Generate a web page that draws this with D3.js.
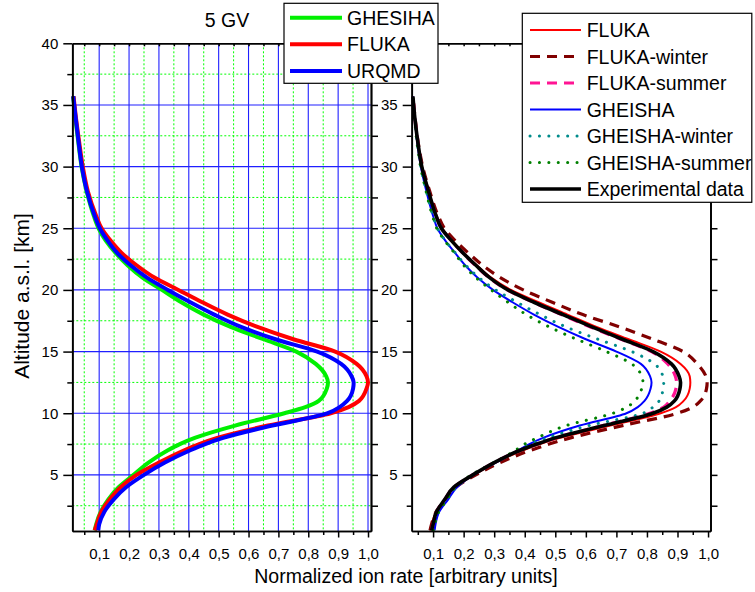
<!DOCTYPE html>
<html><head><meta charset="utf-8">
<script src="https://cdn.jsdelivr.net/npm/d3@7"></script>
<style>
html,body{margin:0;padding:0;background:#fff;}
svg{display:block;}
text{font-family:"Liberation Sans",Arial,Helvetica,sans-serif;}
</style>
</head><body>
<svg id="chart" width="755" height="592"></svg>
<script>
// ---------- data ----------
const altitudes = [0.5, 1, 2, 3, 4, 5, 6, 7, 7.5, 8, 9, 10, 10.5, 11, 12, 12.5, 13, 14, 15, 16, 17, 18, 19, 20, 21, 22, 23, 24, 25, 26, 28, 30, 32, 34, 35.7];

// left panel (5 GV)
const ghesihaLeft = [0.085,0.09,0.105,0.13,0.165,0.215,0.265,0.33,0.37,0.42,0.555,0.72,0.79,0.835,0.862,0.866,0.86,0.825,0.76,0.65,0.54,0.45,0.375,0.31,0.245,0.195,0.155,0.122,0.098,0.082,0.058,0.041,0.03,0.02,0.013];
const flukaLeft    = [0.085,0.092,0.107,0.135,0.172,0.225,0.30,0.385,0.435,0.495,0.665,0.875,0.935,0.97,0.995,1.0,0.995,0.962,0.89,0.75,0.63,0.53,0.445,0.365,0.285,0.225,0.175,0.138,0.108,0.09,0.062,0.045,0.033,0.022,0.014];
const urqmdLeft    = [0.097,0.1,0.117,0.148,0.19,0.25,0.32,0.405,0.455,0.515,0.68,0.865,0.905,0.93,0.95,0.952,0.945,0.91,0.83,0.69,0.575,0.485,0.405,0.33,0.26,0.205,0.16,0.128,0.102,0.085,0.059,0.042,0.031,0.021,0.013];

// right panel
const flukaRight    = [0.09,0.095,0.11,0.138,0.17,0.235,0.305,0.395,0.45,0.515,0.68,0.845,0.895,0.92,0.94,0.942,0.94,0.91,0.845,0.74,0.635,0.54,0.445,0.355,0.29,0.243,0.2,0.162,0.13,0.112,0.086,0.064,0.05,0.04,0.034];
const flukaWinter   = [0.09,0.095,0.11,0.14,0.175,0.24,0.32,0.42,0.48,0.55,0.72,0.90,0.95,0.975,0.995,0.997,0.993,0.965,0.918,0.82,0.71,0.59,0.49,0.395,0.32,0.262,0.215,0.172,0.137,0.117,0.089,0.066,0.051,0.041,0.034];
const flukaSummer   = [0.095,0.1,0.111,0.138,0.168,0.23,0.30,0.385,0.44,0.50,0.655,0.81,0.855,0.875,0.895,0.897,0.893,0.868,0.815,0.715,0.615,0.52,0.428,0.343,0.283,0.238,0.197,0.16,0.127,0.11,0.085,0.063,0.05,0.04,0.034];
const gheishaRight  = [0.105,0.108,0.12,0.149,0.178,0.232,0.305,0.38,0.415,0.46,0.58,0.733,0.77,0.792,0.812,0.815,0.81,0.78,0.70,0.60,0.51,0.43,0.36,0.296,0.245,0.205,0.172,0.14,0.114,0.1,0.078,0.06,0.048,0.04,0.034];
const gheishaWinter = [0.1,0.105,0.118,0.145,0.175,0.23,0.30,0.385,0.42,0.475,0.61,0.787,0.82,0.84,0.853,0.855,0.852,0.825,0.75,0.64,0.535,0.45,0.375,0.305,0.25,0.207,0.173,0.14,0.114,0.1,0.078,0.06,0.048,0.04,0.034];
const gheishaSummer = [0.1,0.105,0.118,0.145,0.172,0.225,0.30,0.37,0.40,0.44,0.536,0.689,0.735,0.76,0.783,0.787,0.783,0.75,0.667,0.57,0.48,0.405,0.345,0.29,0.24,0.2,0.17,0.138,0.112,0.098,0.077,0.059,0.047,0.039,0.034];
const experimental  = [0.095,0.1,0.111,0.138,0.168,0.23,0.30,0.385,0.44,0.50,0.66,0.82,0.865,0.89,0.908,0.91,0.905,0.88,0.82,0.72,0.62,0.525,0.43,0.345,0.285,0.24,0.198,0.16,0.127,0.11,0.085,0.063,0.05,0.04,0.034];

const xMajorTicks = [0.1,0.2,0.3,0.4,0.5,0.6,0.7,0.8,0.9,1.0];
const xMinorTicks = [0.05,0.15,0.25,0.35,0.45,0.55,0.65,0.75,0.85,0.95];
const yMajorTicks = [5,10,15,20,25,30,35,40];
const yMinorTicks = [2.5,7.5,12.5,17.5,22.5,27.5,32.5,37.5];

const leftSeries = [
  {name:"GHESIHA", values:ghesihaLeft, color:"#00f000"},
  {name:"FLUKA",   values:flukaLeft,   color:"#ff0000"},
  {name:"URQMD",   values:urqmdLeft,   color:"#0000ff"}
];
const rightSeries = [
  {name:"FLUKA",          values:flukaRight,    color:"#ff0000", width:2,   dash:null},
  {name:"FLUKA-winter",   values:flukaWinter,   color:"#800000", width:3.2, dash:"10,7"},
  {name:"FLUKA-summer",   values:flukaSummer,   color:"#ff1493", width:3.2, dash:"10,7"},
  {name:"GHEISHA",        values:gheishaRight,  color:"#0000ff", width:2,   dash:null},
  {name:"GHEISHA-winter", values:gheishaWinter, color:"#008b8b", width:3,   dash:"0.1,9.3", cap:"round"},
  {name:"GHEISHA-summer", values:gheishaSummer, color:"#008000", width:3,   dash:"0.1,9.3", cap:"round"},
  {name:"Experimental data", values:experimental, color:"#000000", width:3.6, dash:null}
];

// ---------- layout ----------
const svg = d3.select("#chart");
const FONT = '"Liberation Sans",Arial,Helvetica,sans-serif';
const yTop = 43.3, yBot = 531;
const y = d3.scaleLinear().domain([0.45, 40]).range([yBot, yTop]);
const xL = d3.scaleLinear().domain([0.01, 1.01]).range([72.3, 371]);
const xR = d3.scaleLinear().domain([0.03, 1.008]).range([411.7, 710.5]);
const fmtX = d => d3.format(".1f")(d).replace(".", ",");

// ---------- left grid ----------
const grid = svg.append("g");
grid.selectAll("line.gvm").data(xMinorTicks).join("line")
  .attr("x1", d => xL(d)).attr("x2", d => xL(d)).attr("y1", yTop).attr("y2", yBot)
  .attr("stroke", "#00ff00").attr("stroke-width", 1).attr("stroke-dasharray", "2,2");
grid.selectAll("line.ghm").data(yMinorTicks).join("line")
  .attr("x1", xL.range()[0]).attr("x2", xL.range()[1]).attr("y1", d => y(d)).attr("y2", d => y(d))
  .attr("stroke", "#00ff00").attr("stroke-width", 1).attr("stroke-dasharray", "2,2");
grid.selectAll("line.gvM").data(xMajorTicks).join("line")
  .attr("x1", d => xL(d)).attr("x2", d => xL(d)).attr("y1", yTop).attr("y2", yBot)
  .attr("stroke", "#2020ff").attr("stroke-width", 1.1);
grid.selectAll("line.ghM").data(yMajorTicks.filter(d => d < 40)).join("line")
  .attr("x1", xL.range()[0]).attr("x2", xL.range()[1]).attr("y1", d => y(d)).attr("y2", d => y(d))
  .attr("stroke", "#2020ff").attr("stroke-width", 1.1);

// ---------- curves ----------
function lineFor(xs) {
  return d3.line().x(d => xs(d.v)).y(d => y(d.h)).curve(d3.curveMonotoneY);
}
const toPts = vals => altitudes.map((h, i) => ({h, v: vals[i]}));

svg.append("g").selectAll("path").data(leftSeries).join("path")
  .attr("d", s => lineFor(xL)(toPts(s.values)))
  .attr("fill", "none").attr("stroke", s => s.color).attr("stroke-width", 4)
  .attr("stroke-linejoin", "round");

svg.append("g").selectAll("path").data(rightSeries).join("path")
  .attr("d", s => lineFor(xR)(toPts(s.values)))
  .attr("fill", "none").attr("stroke", s => s.color).attr("stroke-width", s => s.width)
  .attr("stroke-dasharray", s => s.dash).attr("stroke-linecap", s => s.cap || "butt")
  .attr("stroke-linejoin", "round");

// ---------- axes ----------
function styleAxis(g, showLabels) {
  g.selectAll("path.domain").attr("stroke", "#000").attr("stroke-width", 1.7);
  g.selectAll(".tick line").attr("stroke", "#000").attr("stroke-width", 1.5);
  g.selectAll(".tick text").attr("font-size", 15).attr("font-family", FONT).attr("fill", "#000");
  if (!showLabels) g.selectAll(".tick text").remove();
}
function panelAxes(xs, yLabelTicks) {
  const [x0, x1] = xs.range();
  // bottom
  svg.append("g").attr("transform", `translate(0,${yBot})`)
    .call(d3.axisBottom(xs).tickValues(xMinorTicks).tickSize(4).tickSizeOuter(0).tickFormat(""))
    .call(g => styleAxis(g, false));
  svg.append("g").attr("transform", `translate(0,${yBot})`)
    .call(d3.axisBottom(xs).tickValues(xMajorTicks).tickSize(6.5).tickPadding(11).tickSizeOuter(0).tickFormat(fmtX))
    .call(g => styleAxis(g, true));
  // top (inward ticks)
  svg.append("g").attr("transform", `translate(0,${yTop})`)
    .call(d3.axisTop(xs).tickValues(xMajorTicks.concat(xMinorTicks)).tickSize(-3).tickSizeOuter(0).tickFormat(""))
    .call(g => styleAxis(g, false));
  // left
  svg.append("g").attr("transform", `translate(${x0},0)`)
    .call(d3.axisLeft(y).tickValues(yMinorTicks).tickSize(5).tickSizeOuter(0).tickFormat(""))
    .call(g => styleAxis(g, false));
  svg.append("g").attr("transform", `translate(${x0},0)`)
    .call(d3.axisLeft(y).tickValues(yMajorTicks).tickSize(9).tickPadding(5).tickSizeOuter(0)
      .tickFormat(d => yLabelTicks.includes(d) ? d3.format("d")(d) : ""))
    .call(g => styleAxis(g, true));
  // right (outward ticks)
  svg.append("g").attr("transform", `translate(${x1},0)`)
    .call(d3.axisRight(y).tickValues(yMinorTicks).tickSize(7).tickSizeOuter(0).tickFormat(""))
    .call(g => styleAxis(g, false));
  svg.append("g").attr("transform", `translate(${x1},0)`)
    .call(d3.axisRight(y).tickValues(yMajorTicks).tickSize(7).tickSizeOuter(0).tickFormat(""))
    .call(g => styleAxis(g, false));
}
panelAxes(xL, yMajorTicks);
panelAxes(xR, yMajorTicks.filter(d => d < 40)); // the 40 label sits under the legend box

// ---------- titles ----------
svg.append("text").attr("x", 227).attr("y", 27).attr("text-anchor", "middle")
  .attr("font-size", 19.5).text("5 GV");
svg.append("text").attr("x", 406).attr("y", 583).attr("text-anchor", "middle")
  .attr("font-size", 19.5).text("Normalized ion rate [arbitrary units]");
svg.append("text").attr("transform", "translate(29,296) rotate(-90)").attr("text-anchor", "middle")
  .attr("font-size", 21).text("Altitude a.s.l. [km]");

// ---------- legends ----------
const lg1 = svg.append("g");
lg1.append("rect").attr("x", 284).attr("y", 3.3).attr("width", 154).attr("height", 80)
  .attr("fill", "#fff").attr("stroke", "#000").attr("stroke-width", 1.2);
const rows1 = [17.7, 44.3, 71];
leftSeries.forEach((s, i) => {
  lg1.append("line").attr("x1", 290).attr("x2", 342).attr("y1", rows1[i]).attr("y2", rows1[i])
    .attr("stroke", s.color).attr("stroke-width", 4);
  lg1.append("text").attr("x", 347).attr("y", rows1[i] + 7).attr("font-size", 19.5).text(s.name);
});

const lg2 = svg.append("g");
lg2.append("rect").attr("x", 522.3).attr("y", 13.3).attr("width", 229.5).attr("height", 189)
  .attr("fill", "#fff").attr("stroke", "#000").attr("stroke-width", 1.2);
rightSeries.forEach((s, i) => {
  const yy = 30 + i * 26.5;
  lg2.append("line").attr("x1", 530).attr("x2", 581).attr("y1", yy).attr("y2", yy)
    .attr("stroke", s.color).attr("stroke-width", s.width).attr("stroke-dasharray", s.dash)
    .attr("stroke-linecap", s.cap || "butt");
  lg2.append("text").attr("x", 586.7).attr("y", yy + 7).attr("font-size", 19.5).text(s.name);
});
</script>
</body></html>
